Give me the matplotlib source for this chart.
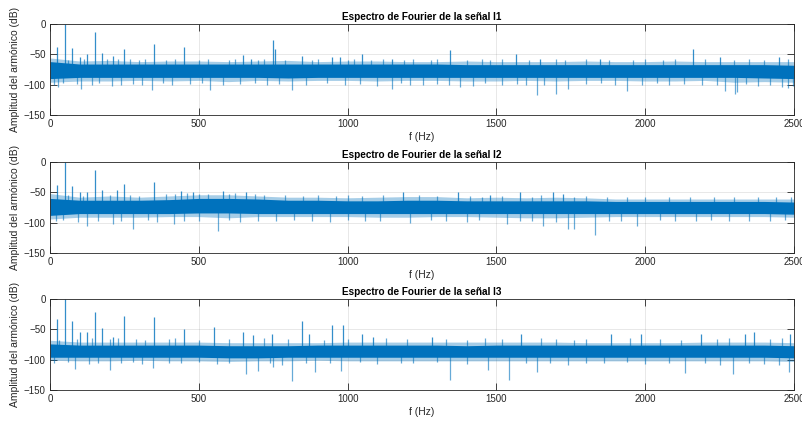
import numpy as np
import matplotlib
matplotlib.use("Agg")
import matplotlib.pyplot as plt

plt.rcParams['font.family'] = ['Liberation Sans', 'DejaVu Sans']

# Frequency nodes (Hz) for the noise-floor envelopes
nodes = [0, 100, 200, 300, 400, 500, 600, 700, 800, 900, 1000, 1100, 1200,
         1300, 1400, 1500, 1600, 1700, 1800, 1900, 2000, 2100, 2200, 2300,
         2400, 2500]

titles = ["Espectro de Fourier de la señal I1",
          "Espectro de Fourier de la señal I2",
          "Espectro de Fourier de la señal I3"]
x_ticks = [0, 500, 1000, 1500, 2000, 2500]
y_ticks = [-150, -100, -50, 0]

# ---- I1 ----
i1_core_top = [-62, -66, -66, -66, -66, -66, -66, -66, -66, -66, -66, -66, -66,
               -66, -67, -67, -67, -67, -67, -67, -67, -67, -67, -67, -67, -68]
i1_core_bot = [-90, -88, -88, -88, -88, -88, -88, -88, -89, -88, -88, -88, -88,
               -88, -88, -88, -88, -88, -88, -88, -88, -88, -88, -88, -89, -90]
i1_outer_top = [-56, -61, -60, -62, -61, -61, -62, -61, -60, -62, -61, -61, -62,
                -62, -61, -62, -62, -62, -61, -62, -62, -61, -62, -62, -62, -62]
i1_outer_bot = [-96, -94, -94, -93, -94, -93, -95, -93, -94, -93, -93, -94, -93,
                -93, -94, -94, -93, -94, -93, -93, -94, -94, -93, -96, -95, -96]
# Harmonic peaks and deep notches
i1_peak_f = [25, 50, 75, 100, 125, 150, 175, 213, 250, 350, 450, 650, 674, 750,
             755, 846, 946, 975, 1047, 1149, 1344, 1566, 1647, 1848, 2162, 2251,
             2450]
i1_peak_db = [-38, 0, -40, -55, -50, -13, -48, -52, -42, -33, -38, -51, -58, -27,
              -42, -53, -54, -55, -49, -58, -43, -50, -57, -58, -42, -55, -55]
i1_dip_f = [28, 104, 207, 342, 538, 812, 1098, 1149, 1254, 1378, 1637, 1700,
            1741, 1938, 2268, 2302, 2310, 2480]
i1_dip_db = [-104, -107, -102, -109, -108, -108, -102, -107, -101, -104, -117,
             -116, -107, -110, -110, -116, -112, -105]
# Smaller excursions at the edges of the noise floor
i1_fuzz_up_f = [60, 115, 190, 230, 270, 300, 320, 390, 420, 500, 530, 600, 620,
                700, 720, 790, 880, 900, 1000, 1020, 1080, 1120, 1190, 1220,
                1280, 1300, 1400, 1450, 1480, 1520, 1610, 1700, 1730, 1800, 1880,
                1960, 2000, 2060, 2100, 2200, 2300, 2350, 2400, 2480]
i1_fuzz_up_db = [-60, -58, -57, -57, -58, -60, -58, -59, -57, -60, -58, -59, -57,
                 -60, -58, -59, -60, -58, -60, -58, -59, -57, -59, -58, -60, -58,
                 -59, -58, -60, -58, -59, -58, -59, -58, -59, -60, -58, -59, -57,
                 -58, -59, -57, -59, -58]
i1_fuzz_dn_f = [15, 45, 90, 140, 165, 240, 280, 310, 380, 410, 470, 510, 580,
                640, 690, 730, 770, 860, 930, 990, 1040, 1180, 1210, 1300, 1340,
                1420, 1460, 1520, 1570, 1600, 1660, 1800, 1850, 1900, 1990, 2040,
                2080, 2130, 2190, 2240, 2340, 2380, 2420, 2460, 2495]
i1_fuzz_dn_db = [-100, -98, -99, -101, -98, -100, -99, -101, -98, -100, -99,
                 -97, -101, -99, -98, -100, -99, -101, -98, -100, -99, -98, -100,
                 -99, -101, -103, -98, -100, -99, -101, -100, -99, -98, -100,
                 -101, -98, -100, -99, -101, -100, -99, -103, -101, -104, -102]

# ---- I2 ----
i2_core_top = [-60, -63, -63, -63, -62, -60, -60, -61, -63, -63, -64, -64, -63,
               -63, -64, -64, -64, -64, -64, -65, -65, -65, -65, -65, -65, -66]
i2_core_bot = [-88, -85, -85, -85, -85, -84, -84, -85, -85, -85, -85, -85, -85,
               -85, -85, -85, -85, -85, -85, -85, -85, -85, -85, -85, -85, -86]
i2_outer_top = [-52, -58, -56, -58, -56, -54, -54, -56, -58, -58, -59, -58, -57,
                -57, -59, -58, -59, -58, -59, -61, -61, -61, -61, -61, -61, -61]
i2_outer_bot = [-94, -91, -91, -91, -90, -90, -92, -90, -90, -90, -90, -91, -91,
                -90, -90, -91, -92, -92, -91, -90, -90, -90, -90, -90, -90, -91]
i2_peak_f = [25, 50, 75, 100, 125, 150, 175, 225, 250, 350, 440, 480, 580, 660,
             1187, 1371, 1478, 1579, 1689, 1725]
i2_peak_db = [-38, 0, -39, -50, -49, -13, -46, -46, -37, -33, -48, -50, -48, -50,
              -50, -50, -55, -50, -50, -52]
i2_dip_f = [95, 125, 213, 279, 415, 563, 1210, 1534, 1657, 1739, 1761, 1831, 1973]
i2_dip_db = [-99, -106, -103, -110, -102, -114, -100, -102, -105, -110, -110,
             -121, -105]
i2_fuzz_up_f = [60, 110, 200, 270, 300, 390, 420, 460, 500, 530, 600, 620, 690,
                720, 790, 850, 900, 960, 1000, 1050, 1120, 1240, 1300, 1410,
                1450, 1520, 1620, 1650, 1760, 1800, 1870, 1940, 2000, 2080, 2150,
                2230, 2300, 2380, 2440, 2490]
i2_fuzz_up_db = [-55, -56, -54, -55, -56, -53, -52, -51, -52, -53, -52, -51,
                 -53, -54, -55, -56, -55, -56, -55, -56, -55, -55, -56, -56, -57,
                 -56, -57, -55, -57, -56, -57, -58, -57, -58, -58, -57, -58, -58,
                 -57, -58]
i2_fuzz_dn_f = [20, 45, 160, 240, 330, 360, 450, 500, 600, 640, 700, 760, 820,
                880, 940, 1000, 1060, 1110, 1280, 1330, 1400, 1440, 1580, 1620,
                1700, 1880, 1920, 2050, 2100, 2170, 2220, 2280, 2350, 2420, 2470]
i2_fuzz_dn_db = [-98, -96, -97, -98, -96, -99, -97, -98, -96, -99, -97, -98,
                 -96, -97, -99, -96, -97, -98, -96, -97, -99, -96, -98, -97, -99,
                 -97, -98, -96, -97, -98, -96, -97, -98, -97, -96]

# ---- I3 ----
i3_core_top = [-74, -76, -76, -76, -76, -76, -77, -77, -77, -76, -76, -76, -76,
               -76, -77, -76, -76, -76, -76, -76, -76, -76, -76, -76, -76, -77]
i3_core_bot = [-96, -96, -96, -96, -96, -96, -97, -97, -96, -96, -96, -96, -96,
               -96, -96, -96, -96, -96, -96, -96, -96, -96, -96, -96, -96, -97]
i3_outer_top = [-68, -71, -71, -71, -71, -71, -72, -72, -72, -72, -71, -71, -71,
                -71, -71, -71, -71, -71, -72, -72, -72, -72, -71, -71, -71, -72]
i3_outer_bot = [-101, -102, -102, -101, -102, -102, -103, -102, -102, -101, -102,
                -102, -102, -102, -102, -102, -102, -102, -102, -102, -102, -102,
                -102, -102, -102, -103]
i3_peak_f = [25, 50, 75, 100, 125, 150, 175, 213, 250, 350, 450, 550, 650, 683,
             747, 848, 871, 946, 983, 1047, 1084, 1284, 1584, 1884, 1985, 2188,
             2335, 2366, 2487]
i3_peak_db = [-33, 0, -37, -54, -54, -21, -48, -62, -28, -30, -49, -46, -55, -59,
              -58, -37, -58, -43, -43, -58, -63, -63, -57, -57, -57, -57, -57,
              -55, -57]
i3_dip_f = [84, 202, 347, 657, 698, 750, 812, 890, 978, 1344, 1472, 1543, 1637,
            2134, 2296, 2483]
i3_dip_db = [-115, -117, -113, -124, -119, -112, -135, -121, -118, -134, -117,
             -134, -120, -122, -124, -120]
i3_fuzz_up_f = [30, 90, 140, 200, 230, 290, 320, 400, 420, 500, 600, 720, 800,
                920, 1000, 1130, 1200, 1330, 1400, 1460, 1520, 1650, 1700, 1760,
                1800, 1950, 2050, 2120, 2240, 2280, 2420, 2460]
i3_fuzz_up_db = [-68, -66, -65, -66, -64, -66, -67, -66, -65, -67, -66, -65,
                 -66, -67, -66, -65, -66, -66, -67, -65, -66, -65, -66, -67, -66,
                 -65, -66, -67, -66, -65, -66, -64]
i3_fuzz_dn_f = [15, 60, 130, 160, 240, 280, 310, 400, 440, 500, 560, 600, 740,
                780, 860, 940, 1040, 1100, 1180, 1220, 1300, 1400, 1600, 1680,
                1740, 1800, 1860, 1940, 2000, 2080, 2200, 2250, 2350, 2400, 2450]
i3_fuzz_dn_db = [-105, -104, -107, -105, -106, -104, -107, -105, -106, -104,
                 -107, -105, -106, -108, -105, -106, -104, -107, -105, -106,
                 -104, -107, -105, -106, -108, -105, -106, -104, -107, -105,
                 -106, -108, -105, -107, -109]

signals = [
    (i1_core_top, i1_core_bot, i1_outer_top, i1_outer_bot,
     i1_peak_f, i1_peak_db, i1_dip_f, i1_dip_db,
     i1_fuzz_up_f, i1_fuzz_up_db, i1_fuzz_dn_f, i1_fuzz_dn_db),
    (i2_core_top, i2_core_bot, i2_outer_top, i2_outer_bot,
     i2_peak_f, i2_peak_db, i2_dip_f, i2_dip_db,
     i2_fuzz_up_f, i2_fuzz_up_db, i2_fuzz_dn_f, i2_fuzz_dn_db),
    (i3_core_top, i3_core_bot, i3_outer_top, i3_outer_bot,
     i3_peak_f, i3_peak_db, i3_dip_f, i3_dip_db,
     i3_fuzz_up_f, i3_fuzz_up_db, i3_fuzz_dn_f, i3_fuzz_dn_db),
]

blue = '#0072BD'
axis_col = '#262626'

fig = plt.figure(figsize=(8.03, 4.24), dpi=100)
bottoms = [0.7288, 0.4033, 0.0802]
for k, (ct, cb, ot, ob, pf, pdb, df, ddb, uf, udb, nf, ndb) in enumerate(signals):
    ax = fig.add_axes([0.0623, bottoms[k], 0.9265, 0.2146])
    mid = (np.array(ct) + np.array(cb)) / 2.0
    ax.fill_between(nodes, ob, ot, color=blue, alpha=0.35, linewidth=0)
    ax.fill_between(nodes, cb, ct, color=blue, linewidth=0)
    ax.vlines(uf, np.interp(uf, nodes, mid), udb, color=blue, linewidth=0.9,
              alpha=0.6)
    ax.vlines(nf, np.interp(nf, nodes, mid), ndb, color=blue, linewidth=0.9,
              alpha=0.6)
    ax.vlines(pf, np.interp(pf, nodes, mid), pdb, color=blue, linewidth=0.9,
              alpha=0.8)
    ax.vlines(df, np.interp(df, nodes, mid), ddb, color=blue, linewidth=0.9,
              alpha=0.6)

    ax.set_xlim(0, 2500)
    ax.set_ylim(-150, 0)
    ax.set_xticks(x_ticks)
    ax.set_yticks(y_ticks)
    ax.grid(True, color='#262626', alpha=0.12, linewidth=0.6)
    ax.set_axisbelow(True)
    ax.tick_params(direction='in', length=5, width=0.6, top=True, right=True,
                   labelsize=7, colors=axis_col, pad=3)
    for sp in ax.spines.values():
        sp.set_color(axis_col)
        sp.set_linewidth(0.6)
    ax.set_title(titles[k], fontsize=7.2, fontweight='bold', pad=3)
    ax.set_xlabel('f (Hz)', fontsize=7.5, color=axis_col, labelpad=2)
    ax.set_ylabel('Amplitud del armónico (dB)', fontsize=7.5, color=axis_col,
                  labelpad=3)

fig.savefig('out.png', dpi=100)
